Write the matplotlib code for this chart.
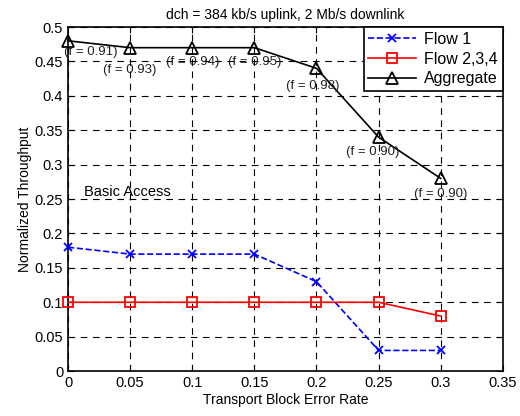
import numpy as np
import matplotlib.pyplot as plt

plt.rcParams.update({
    'font.family': 'Liberation Sans',
    'font.size': 10,
    'xtick.direction': 'in',
    'ytick.direction': 'in',
    'axes.linewidth': 1.2,
})

# data
bler = [0, 0.05, 0.1, 0.15, 0.2, 0.25, 0.3]
flow1 = [0.18, 0.17, 0.17, 0.17, 0.13, 0.03, 0.03]
flow234 = [0.10, 0.10, 0.10, 0.10, 0.10, 0.10, 0.08]
aggregate = [0.48, 0.47, 0.47, 0.47, 0.44, 0.34, 0.28]

f_labels = ['(f = 0.91)', '(f = 0.93)', '(f = 0.94)', '(f = 0.95)',
            '(f = 0.98)', '(f = 0.90)', '(f = 0.90)']
f_pos = [(0.0185, 0.4637), (0.05, 0.4375), (0.10, 0.449), (0.15, 0.449),
         (0.197, 0.414), (0.2456, 0.318), (0.30, 0.257)]

fig = plt.figure(figsize=(5.2, 4.16), dpi=100)
ax = fig.add_axes([0.1308, 0.108, 0.8362, 0.827])

ax.plot(bler, flow1, '--', color='blue', marker='x', markersize=6, lw=1.2,
        markeredgewidth=1.3, label='Flow 1', clip_on=False, zorder=3)
ax.plot(bler, flow234, '-', color='red', marker='s', markersize=7.5, lw=1.2,
        markerfacecolor='none', markeredgewidth=1.3, label='Flow 2,3,4',
        clip_on=False, zorder=3)
ax.plot(bler, aggregate, '-', color='black', marker='^', markersize=9, lw=1.2,
        markerfacecolor='none', markeredgewidth=1.3, label='Aggregate',
        clip_on=False, zorder=3)

for txt, (xx, yy) in zip(f_labels, f_pos):
    ax.text(xx, yy, txt, ha='center', va='center', fontsize=9.5,
            color='#222222')

ax.text(0.0129, 0.26, 'Basic Access', ha='left', va='center', fontsize=10.5)

ax.set_xlim(0, 0.35)
ax.set_ylim(0, 0.5)
xt = np.arange(0, 0.351, 0.05)
yt = np.arange(0, 0.501, 0.05)
ax.set_xticks(xt)
ax.set_yticks(yt)
ax.set_xticklabels(['0', '0.05', '0.1', '0.15', '0.2', '0.25', '0.3', '0.35'])
ax.set_yticklabels(['0', '0.05', '0.1', '0.15', '0.2', '0.25', '0.3',
                    '0.35', '0.4', '0.45', '0.5'])
ax.grid(True, color='black', linestyle=(0, (6, 5)), linewidth=0.8)
ax.tick_params(top=True, right=True, length=4, labelsize=10.5)

ax.set_xlabel('Transport Block Error Rate', labelpad=2)
ax.set_ylabel('Normalized Throughput', labelpad=2)
ax.set_title('dch = 384 kb/s uplink, 2 Mb/s downlink', fontsize=10, pad=6)

leg = ax.legend(loc='upper right', fancybox=False, edgecolor='black',
                framealpha=1, borderaxespad=0, handlelength=3.0,
                fontsize=11.5, borderpad=0.3, labelspacing=0.3,
                handletextpad=0.5)
leg.get_frame().set_linewidth(1.2)

fig.savefig('out.png', dpi=100)
